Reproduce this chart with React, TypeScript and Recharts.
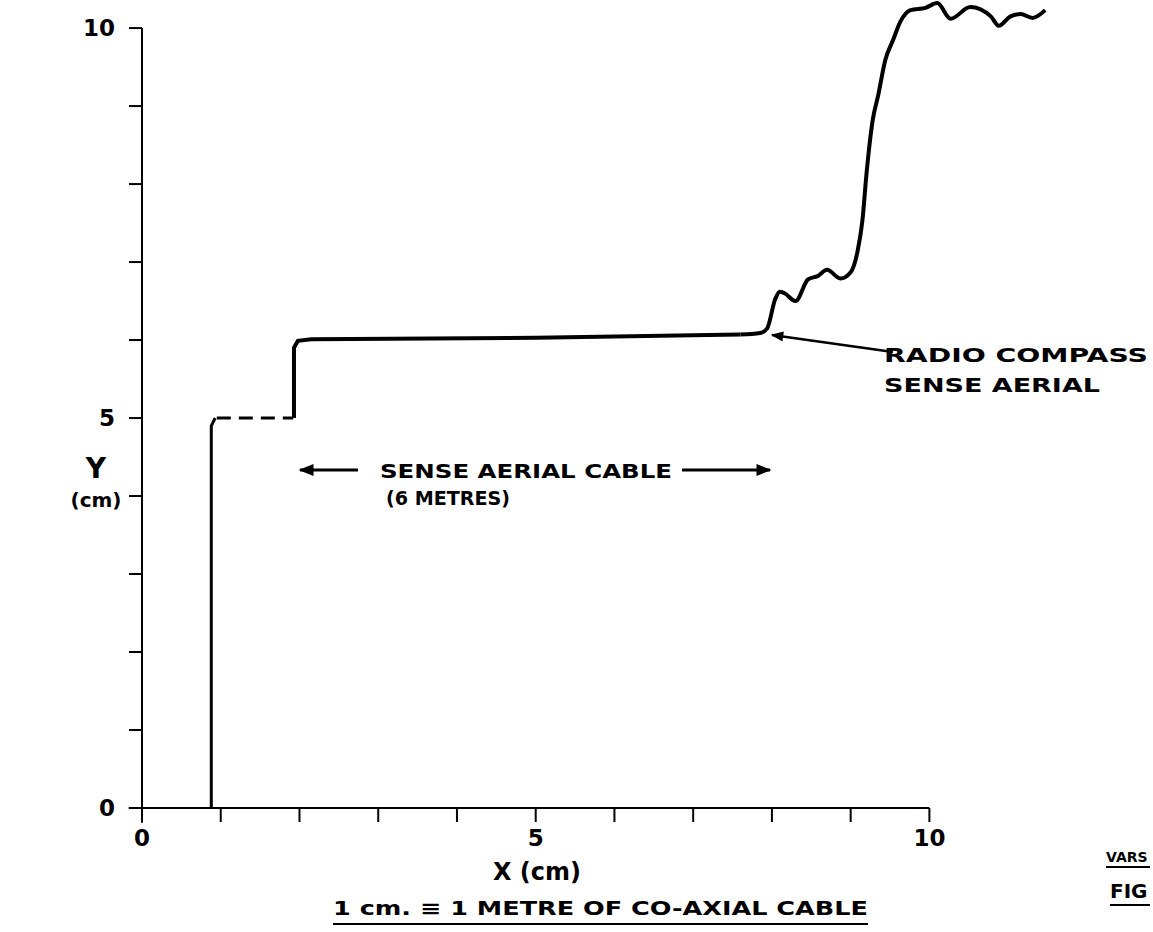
import React from 'react';
import { LineChart, Line, XAxis, YAxis, ReferenceLine } from 'recharts';

// readings taken off the trace (x and y in cm)
const riseX = [0.88, 0.88, 0.93];
const riseY = [0, 4.9, 5.0];

const dashX = [0.95, 1.92];
const dashY = [5.0, 5.0];

const stepX = [1.93, 1.93, 1.98, 2.15, 5.0, 7.6];
const stepY = [5.0, 5.9, 5.99, 6.01, 6.03, 6.07];

const traceX = [7.6, 7.85, 7.94, 8.04, 8.1, 8.16, 8.3, 8.46, 8.58, 8.7, 8.87, 9.0, 9.09, 9.15, 9.2, 9.28, 9.35, 9.44, 9.54, 9.63, 9.76, 9.95, 10.1, 10.27, 10.52, 10.78, 10.88, 11.03, 11.16, 11.31, 11.47];
const traceY = [6.07, 6.09, 6.15, 6.52, 6.62, 6.6, 6.5, 6.78, 6.82, 6.9, 6.79, 6.87, 7.15, 7.54, 8.12, 8.82, 9.14, 9.59, 9.85, 10.08, 10.23, 10.26, 10.32, 10.12, 10.27, 10.15, 10.03, 10.15, 10.18, 10.13, 10.23];

const xTicks = [0, 1, 2, 3, 4, 5, 6, 7, 8, 9, 10];
const yTicks = [0, 1, 2, 3, 4, 5, 6, 7, 8, 9, 10];
const labelledTicks = [0, 5, 10];

const toPoints = (xs: number[], ys: number[]) => xs.map((x, i) => ({ x, y: ys[i] }));

const FONT = '"DejaVu Sans", sans-serif';

const tickFmt = (v: number) => (labelledTicks.includes(v) ? String(v) : '');

const App: React.FC = () => {
  return (
    <div style={{ position: 'fixed', top: 0, left: 0, width: 1153, height: 932, background: '#fff' }}>
      <LineChart
        width={1153}
        height={932}
        margin={{ top: 0, right: 11, left: 82, bottom: 84 }}
        style={{ position: 'absolute', top: 0, left: 0 }}
      >
        <XAxis
          type="number"
          dataKey="x"
          domain={[0, 12.7]}
          ticks={xTicks}
          tickFormatter={tickFmt}
          axisLine={false}
          tickSize={14}
          tickMargin={8}
          tickLine={{ stroke: '#000', strokeWidth: 2 }}
          tick={{ fill: '#000', fontSize: 23, fontWeight: 'bold', fontFamily: FONT }}
          height={40}
          interval={0}
          allowDataOverflow
        />
        <YAxis
          type="number"
          dataKey="y"
          domain={[0, 10.36]}
          ticks={yTicks}
          tickFormatter={tickFmt}
          axisLine={false}
          tickSize={13}
          tickMargin={14}
          tickLine={{ stroke: '#000', strokeWidth: 2 }}
          tick={{ fill: '#000', fontSize: 23, fontWeight: 'bold', fontFamily: FONT }}
          width={60}
          interval={0}
          allowDataOverflow
        />
        <ReferenceLine
          segment={[{ x: -0.17, y: 0 }, { x: 10, y: 0 }]}
          stroke="#000"
          strokeWidth={2}
          ifOverflow="visible"
        />
        <ReferenceLine
          segment={[{ x: 0, y: -0.19 }, { x: 0, y: 10 }]}
          stroke="#000"
          strokeWidth={2}
          ifOverflow="visible"
        />
        <Line data={toPoints(riseX, riseY)} dataKey="y" type="linear" stroke="#000" strokeWidth={3} dot={false} isAnimationActive={false} />
        <Line data={toPoints(dashX, dashY)} dataKey="y" type="linear" stroke="#000" strokeWidth={3} strokeDasharray="14 8" dot={false} isAnimationActive={false} />
        <Line data={toPoints(stepX, stepY)} dataKey="y" type="linear" stroke="#000" strokeWidth={4} dot={false} isAnimationActive={false} />
        <Line data={toPoints(traceX, traceY)} dataKey="y" type="monotone" stroke="#000" strokeWidth={4} dot={false} isAnimationActive={false} />
      </LineChart>

      {/* hand-lettered annotations */}
      <svg
        width={1153}
        height={932}
        style={{ position: 'absolute', top: 0, left: 0, pointerEvents: 'none' }}
        fontFamily={FONT}
        fontWeight="bold"
        fill="#000"
      >
        <defs>
          <marker id="head" viewBox="0 0 10 10" refX="9" refY="5" markerWidth="7" markerHeight="5" orient="auto-start-reverse">
            <path d="M0,1 L10,5 L0,9 z" fill="#000" />
          </marker>
        </defs>

        <text x={96} y={478} fontSize={28} textAnchor="middle">Y</text>
        <text x={96} y={507} fontSize={20} textAnchor="middle">(cm)</text>

        <text x={537} y={880} fontSize={24} textAnchor="middle">X (cm)</text>
        <text x={333} y={915} fontSize={19} textLength={535} lengthAdjust="spacingAndGlyphs">1 cm. ≡ 1 METRE OF CO-AXIAL CABLE</text>
        <line x1={333} y1={924} x2={868} y2={924} stroke="#000" strokeWidth={2} />

        <text x={380} y={478} fontSize={19} textLength={292} lengthAdjust="spacingAndGlyphs">SENSE AERIAL CABLE</text>
        <text x={386} y={505} fontSize={19} textLength={124} lengthAdjust="spacingAndGlyphs">(6 METRES)</text>
        <line x1={358} y1={470} x2={300} y2={470} stroke="#000" strokeWidth={3} markerEnd="url(#head)" />
        <line x1={682} y1={470} x2={770} y2={470} stroke="#000" strokeWidth={3} markerEnd="url(#head)" />

        <text x={884} y={362} fontSize={19} textLength={264} lengthAdjust="spacingAndGlyphs">RADIO COMPASS</text>
        <text x={884} y={392} fontSize={19} textLength={216} lengthAdjust="spacingAndGlyphs">SENSE AERIAL</text>
        <line x1={893} y1={352} x2={772} y2={335} stroke="#000" strokeWidth={2.5} markerEnd="url(#head)" />

        <text x={1106} y={862} fontSize={14}>VARS</text>
        <line x1={1106} y1={867} x2={1150} y2={867} stroke="#000" strokeWidth={2} />
        <text x={1110} y={898} fontSize={20}>FIG</text>
        <line x1={1110} y1={905} x2={1150} y2={905} stroke="#000" strokeWidth={2} />
      </svg>
    </div>
  );
};

export default App;
